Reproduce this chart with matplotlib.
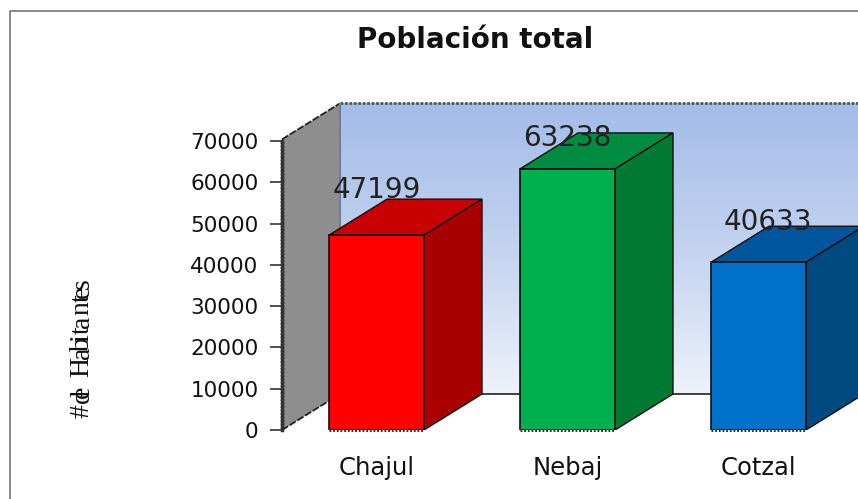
import matplotlib
matplotlib.use("Agg")
import matplotlib.pyplot as plt
import numpy as np
from matplotlib.colors import LinearSegmentedColormap
from matplotlib.lines import Line2D
from matplotlib.patches import Polygon

plt.rcParams['font.family'] = ['DejaVu Sans']

categories = ["Chajul", "Nebaj", "Cotzal"]
values = [47199, 63238, 40633]
y_ticks = [0, 10000, 20000, 30000, 40000, 50000, 60000, 70000]
front_colors = ["#ff0000", "#00b050", "#0070c8"]
top_colors = ["#c80000", "#008c40", "#00569c"]
side_colors = ["#a80000", "#007a33", "#004a80"]
ylabel_chars = list("#deHabitantes")

W, H = 858, 499
fig = plt.figure(figsize=(W / 100, H / 100), dpi=100, facecolor="white")

# axes box in pixels, the 3d look is just offsets from it
left, right, bottom, top = 282, 858, 430, 103
ax = fig.add_axes([left / W, 1 - bottom / H, (right - left) / W, (bottom - top) / H])
ax.patch.set_visible(False)

px_per_cat = 191.0
px_per_val = 289.0 / 70000
x_min = (left - 376.5) / px_per_cat
x_max = x_min + (right - left) / px_per_cat
y_max = (bottom - top) / px_per_val

dx = 58 / px_per_cat
dy = 36 / px_per_val
wall_top = 70400
edge = "#101010"

# back wall gradient
cmap = LinearSegmentedColormap.from_list("wall", ["#a3bce8", "#c3d3f0", "#eef2fb"])
grad = np.linspace(0, 1, 256).reshape(-1, 1)
ax.imshow(grad, cmap=cmap, aspect="auto", zorder=1,
          extent=[x_min + dx, x_max, dy, wall_top + dy], clip_on=True)
ax.set_xlim(x_min, x_max)
ax.set_ylim(0, y_max)
ax.plot([x_min + dx, x_max], [wall_top + dy] * 2, color="#555555", lw=2, ls=(0, (1, 0.6)), zorder=2, clip_on=False)
ax.plot([x_min + dx, x_max], [dy, dy], color="#222222", lw=1.2, zorder=2)

# left wall
ax.add_patch(Polygon([(x_min, 0), (x_min + dx, dy), (x_min + dx, wall_top + dy), (x_min, wall_top)],
                     facecolor="#8e8e8e", edgecolor="none", zorder=2, clip_on=False))
ax.plot([x_min, x_min + dx], [wall_top, wall_top + dy], color="#222222", lw=1.3, ls=(0, (4, 1)), zorder=3, clip_on=False)
ax.plot([x_min, x_min + dx], [0, dy], color="#222222", lw=1.3, ls=(0, (4, 1)), zorder=3)
ax.plot([x_min + dx] * 2, [dy, wall_top + dy], color="#6f7f99", lw=1.5, zorder=3)

# bars
width = 95 / px_per_cat
x = np.arange(len(categories))
ax.bar(x, values, width=width, color=front_colors, edgecolor=edge, linewidth=1.2, zorder=5)
for i, v in enumerate(values):
    l, r = i - width / 2, i + width / 2
    ax.add_patch(Polygon([(l, v), (r, v), (r + dx, v + dy), (l + dx, v + dy)],
                         facecolor=top_colors[i], edgecolor=edge, lw=1, zorder=4, clip_on=False))
    ax.add_patch(Polygon([(r, 0), (r + dx, dy), (r + dx, v + dy), (r, v)],
                         facecolor=side_colors[i], edgecolor=edge, lw=1, zorder=4))
    ax.plot([l, r], [0, 0], color="#333333", lw=2.2, ls=(0, (0.6, 0.6)), zorder=6, clip_on=False)

# value labels, they do not sit at the same height above each bar
label_shift_x = [0.0, 0.0, 0.05]
label_shift_y = [10900, 7500, 9700]
for i, v in enumerate(values):
    ax.text(i + label_shift_x[i], v + label_shift_y[i], str(v), ha="center", va="center",
            fontsize=20, color="#222222", zorder=6, clip_on=False)

ax.set_xticks(x, categories)
ax.set_yticks(y_ticks)
ax.tick_params(axis="x", length=0, pad=19, labelsize=17.5, labelcolor="#111111")
ax.tick_params(axis="y", length=9, width=1.2, pad=8, labelsize=15.5, labelcolor="#111111", color="#333333")
for name in ["top", "right", "bottom"]:
    ax.spines[name].set_visible(False)
ax.spines["left"].set_bounds(0, 70000)
ax.spines["left"].set_linewidth(2.5)
ax.spines["left"].set_linestyle((0, (0.5, 0.5)))
ax.spines["left"].set_color("#333333")

fig.text(475 / W, 1 - 40 / H, "Población total", ha="center", va="center", fontsize=20, fontweight="bold", color="#111111")

# the original label is squashed so the letters overlap
ylabel_y = [411, 396, 392, 367, 353, 344, 338, 330, 322, 308, 298, 292, 284]
for ch, py in zip(ylabel_chars, ylabel_y):
    fig.text(82 / W, 1 - py / H, ch, rotation=90, ha="center", va="center", fontsize=20,
             family=["Liberation Serif", "DejaVu Serif"], color="#111111")

# outer frame, only top and left are visible in the crop
fig.add_artist(Line2D([10 / W, 10 / W, 1], [0, 1 - 11 / H, 1 - 11 / H], color="#777777", lw=1.2))

fig.savefig("out.png", dpi=100)
